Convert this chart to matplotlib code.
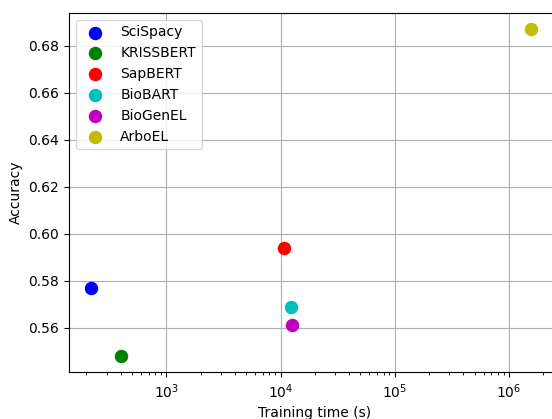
import matplotlib
matplotlib.use("Agg")
import matplotlib.pyplot as plt

models = ["SciSpacy", "KRISSBERT", "SapBERT", "BioBART", "BioGenEL", "ArboEL"]
train_time = [219, 404, 10800, 12400, 12700, 1.56e6]
accuracy = [0.577, 0.548, 0.594, 0.569, 0.561, 0.687]
colors = ["b", "g", "r", "c", "m", "y"]

fig = plt.figure(figsize=(5.52, 4.19), dpi=100)
ax = fig.add_axes([69 / 552, (419 - 372.3) / 419, (560 - 69) / 552, (372.3 - 12.7) / 419])

for m, t, a, c in zip(models, train_time, accuracy, colors):
    ax.scatter(t, a, color=c, s=75, label=m, zorder=3)

ax.set_xscale("log")
ax.set_xlim(140.6, 2.80e6)
ax.set_xlabel("Training time (s)")
ax.set_ylabel("Accuracy")
ax.grid(True)
ax.set_axisbelow(True)
ax.legend(loc="upper left")

fig.savefig("out.png", dpi=100)
